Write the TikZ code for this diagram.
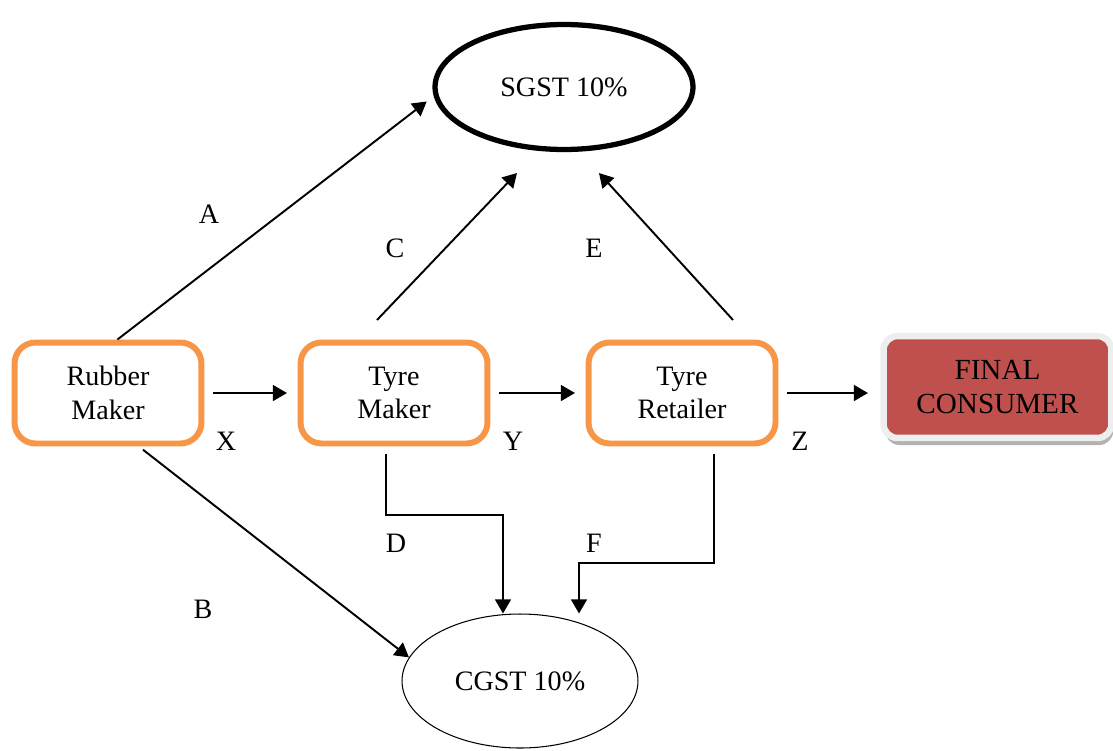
\documentclass[tikz,border=0pt]{standalone}
\usepackage{fontspec}
\setmainfont{Liberation Serif}
\usetikzlibrary{shapes.geometric, arrows.meta, positioning, shadows}
\definecolor{boxorange}{RGB}{247, 150, 70}
\definecolor{consred}{RGB}{192, 80, 77}
\definecolor{framegray}{RGB}{238, 238, 238}

\begin{document}
\begin{tikzpicture}[x=0.02cm, y=-0.02cm,
  box/.style={draw=boxorange, line width=3.4pt, rounded corners=12pt, minimum width=3.74cm, minimum height=2.02cm, align=center, font=\fontsize{16}{19}\selectfont},
  tax/.style={ellipse, draw, line width=#1, font=\fontsize{16}{19}\selectfont},
  arr/.style={-{Triangle[length=8pt, width=9pt]}, line width=1.1pt},
  lbl/.style={font=\fontsize{16}{19}\selectfont},
]
  \useasboundingbox (0, 0) rectangle (1113, 751);
  % tax offices
  \node[tax=3pt, minimum width=5.16cm, minimum height=2.5cm] (sgst) at (564, 87) {SGST 10\%};
  \node[tax=0.6pt, minimum width=4.72cm, minimum height=2.68cm] (cgst) at (520, 681) {CGST 10\%};
  % supply chain
  \node[box] (rm) at (108, 393) {Rubber\\Maker};
  \node[box] (tm) at (394, 393) {Tyre\\Maker};
  \node[box] (tr) at (682, 393) {Tyre\\Retailer};
  \node[draw=framegray, line width=3.7pt, fill=consred, rounded corners=8pt, minimum width=4.56cm, minimum height=2.04cm, align=center, font=\fontsize{16.6}{19.5}\selectfont,
    drop shadow={shadow xshift=1pt, shadow yshift=-4pt, fill=gray!60, opacity=1}] (fc) at (997.5, 387) {FINAL\\CONSUMER};
  % free ends
  \coordinate (cfoot) at (377, 320);
  \coordinate (ctip) at (517, 173);
  \coordinate (efoot) at (733, 320);
  \coordinate (etip) at (599, 173);
  \coordinate (d1) at (386, 515);
  \coordinate (d2) at (503, 515);
  \coordinate (f1) at (714, 563);
  \coordinate (f2) at (579, 563);
  % arrows
  \draw[arr, shorten >=5pt] (rm.80) -- (sgst.184);
  \draw[arr] (cfoot) -- (ctip);
  \draw[arr] (efoot) -- (etip);
  \draw[arr, shorten <=5pt, shorten >=6pt] (rm.east) -- (tm.west);
  \draw[arr, shorten <=5pt, shorten >=6pt] (tm.east) -- (tr.west);
  \draw[arr, shorten <=5pt, shorten >=7pt] (tr.east) -- (tr.east -| fc.west);
  \draw[arr, shorten <=3pt] (rm.-60) -- (cgst.168);
  \draw[arr, shorten <=4pt] (tm.south -| d1) -- (d1) -- (d2) -- (d2 |- cgst.north);
  \draw[arr, shorten <=4pt] (tr.south -| f1) -- (f1) -- (f2) -- (f2 |- cgst.north);
  % labels
  \node[lbl] (la) at (209, 214) {A};
  \node[lbl] (lb) at (203, 609) {B};
  \node[lbl] (lc) at (395, 248) {C};
  \node[lbl] (ld) at (396, 543) {D};
  \node[lbl] (le) at (594, 248) {E};
  \node[lbl] (lf) at (594, 543) {F};
  \node[lbl] (lx) at (226, 441) {X};
  \node[lbl] (ly) at (513, 441) {Y};
  \node[lbl] (lz) at (800, 441) {Z};
\end{tikzpicture}
\end{document}
